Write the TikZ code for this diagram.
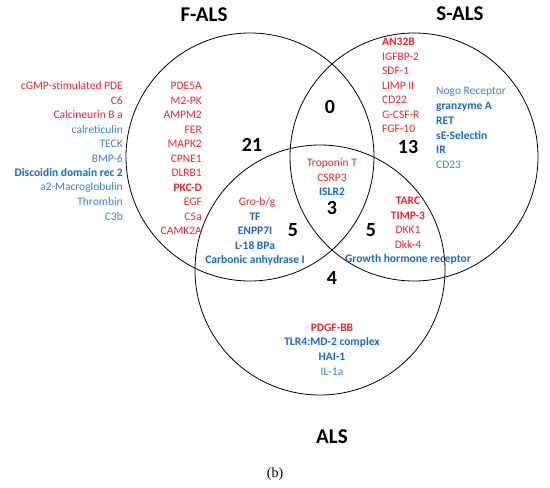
\documentclass[tikz,border=0pt]{standalone}
\usepackage{fontspec}
\setmainfont{Carlito}
\newfontfamily\serifcap{Liberation Serif}
\definecolor{itred}{RGB}{232,40,46}
\definecolor{itblue}{RGB}{58,134,208}
\definecolor{itbblue}{RGB}{26,107,194}
\begin{document}
\begin{tikzpicture}[x=1pt,y=-1pt,
  venn/.style={draw=black,line width=0.8pt},
  title/.style={font=\fontsize{21}{23}\selectfont\bfseries},
  count/.style={font=\fontsize{20}{22}\selectfont\bfseries},
  itm/.style={font=\fontsize{11.5}{13}\selectfont,inner sep=0pt},
  rd/.style={itm,text=itred},
  rdb/.style={itm,text=itred,font=\fontsize{11.5}{13}\selectfont\bfseries},
  bl/.style={itm,text=itblue},
  blb/.style={itm,text=itbblue,font=\fontsize{11.5}{13}\selectfont\bfseries}]
\useasboundingbox (0,0) rectangle (550,488);
\fill[white] (0,0) rectangle (550,488);
% circles
\node[venn,circle,minimum size=248pt,inner sep=0pt] (cF) at (250,157) {};
\node[venn,circle,minimum size=248pt,inner sep=0pt] (cS) at (414,157) {};
\node[venn,circle,minimum size=250pt,inner sep=0pt] (cA) at (320,270) {};
% titles
\node[title] (tF) at (204,15) {F-ALS};
\node[title] (tS) at (460,14) {S-ALS};
\node[title] (tA) at (332,437) {ALS};
\node[font=\serifcap\fontsize{14}{16}\selectfont] (tb) at (275,474) {(b)};
% counts
\node[count] (n21) at (252,145) {21};
\node[count] (n0) at (330,107) {0};
\node[count] (n13) at (408,147) {13};
\node[count] (n3) at (332,208) {3};
\node[count] (n5a) at (293,230) {5};
\node[count] (n5b) at (371,230) {5};
\node[count] (n4) at (332,278) {4};
% left outer list
\node[rd,anchor=east] (l1) at (123,86) {cGMP-stimulated PDE};
\node[rd,anchor=east] (l2) at (123,100.5) {C6};
\node[rd,anchor=east] (l3) at (123,115) {Calcineurin B a};
\node[bl,anchor=east] (l4) at (123,129.5) {calreticulin};
\node[bl,anchor=east] (l5) at (123,144) {TECK};
\node[bl,anchor=east] (l6) at (123,158.5) {BMP-6};
\node[blb,anchor=east] (l7) at (123,173) {Discoidin domain rec 2};
\node[bl,anchor=east] (l8) at (123,187.5) {a2-Macroglobulin};
\node[bl,anchor=east] (l9) at (123,202) {Thrombin};
\node[bl,anchor=east] (l10) at (123,216.5) {C3b};
% F list
\node[rd,anchor=east] (f1) at (202,86) {PDE5A};
\node[rd,anchor=east] (f2) at (202,100.5) {M2-PK};
\node[rd,anchor=east] (f3) at (202,115) {AMPM2};
\node[rd,anchor=east] (f4) at (202,129.5) {FER};
\node[rd,anchor=east] (f5) at (202,144) {MAPK2};
\node[rd,anchor=east] (f6) at (202,158.5) {CPNE1};
\node[rd,anchor=east] (f7) at (202,173) {DLRB1};
\node[rdb,anchor=east] (f8) at (202,187.5) {PKC-D};
\node[rd,anchor=east] (f9) at (202,202) {EGF};
\node[rd,anchor=east] (f10) at (202,216.5) {C5a};
\node[rd,anchor=east] (f11) at (202,231) {CAMK2A};
% S red list
\node[rdb,anchor=west] (s1) at (382,42) {AN32B};
\node[rd,anchor=west] (s2) at (382,56.5) {IGFBP-2};
\node[rd,anchor=west] (s3) at (382,71) {SDF-1};
\node[rd,anchor=west] (s4) at (382,85.5) {LIMP II};
\node[rd,anchor=west] (s5) at (382,100) {CD22};
\node[rd,anchor=west] (s6) at (382,114.5) {G-CSF-R};
\node[rd,anchor=west] (s7) at (382,129) {FGF-10};
% S blue list
\node[bl,anchor=west] (b1) at (436,92) {Nogo Receptor};
\node[blb,anchor=west] (b2) at (436,106.5) {granzyme A};
\node[blb,anchor=west] (b3) at (436,121) {RET};
\node[blb,anchor=west] (b4) at (436,135.5) {sE-Selectin};
\node[blb,anchor=west] (b5) at (436,150) {IR};
\node[bl,anchor=west] (b6) at (436,164.5) {CD23};
% triple
\node[rd] (t1) at (332,163) {Troponin T};
\node[rd] (t2) at (332,177.5) {CSRP3};
\node[blb] (t3) at (332,192) {ISLR2};
% F and ALS
\node[rd] (fa1) at (257,202) {Gro-b/g};
\node[blb] (fa2) at (255,216.5) {TF};
\node[blb] (fa3) at (255,231) {ENPP7I};
\node[blb] (fa4) at (255,245.5) {L-18 BPa};
\node[blb] (fa5) at (255,260) {Carbonic anhydrase I};
% S and ALS
\node[rdb] (sa1) at (408,201) {TARC};
\node[rdb] (sa2) at (408,215.5) {TIMP-3};
\node[rd] (sa3) at (408,230) {DKK1};
\node[rd] (sa4) at (408,244.5) {Dkk-4};
\node[blb] (sa5) at (408,259) {Growth hormone receptor};
% ALS only
\node[rdb] (a1) at (332,328) {PDGF-BB};
\node[blb] (a2) at (332,342.5) {TLR4:MD-2 complex};
\node[blb] (a3) at (332,357) {HAI-1};
\node[bl] (a4) at (332,371.5) {IL-1a};
\end{tikzpicture}
\end{document}
